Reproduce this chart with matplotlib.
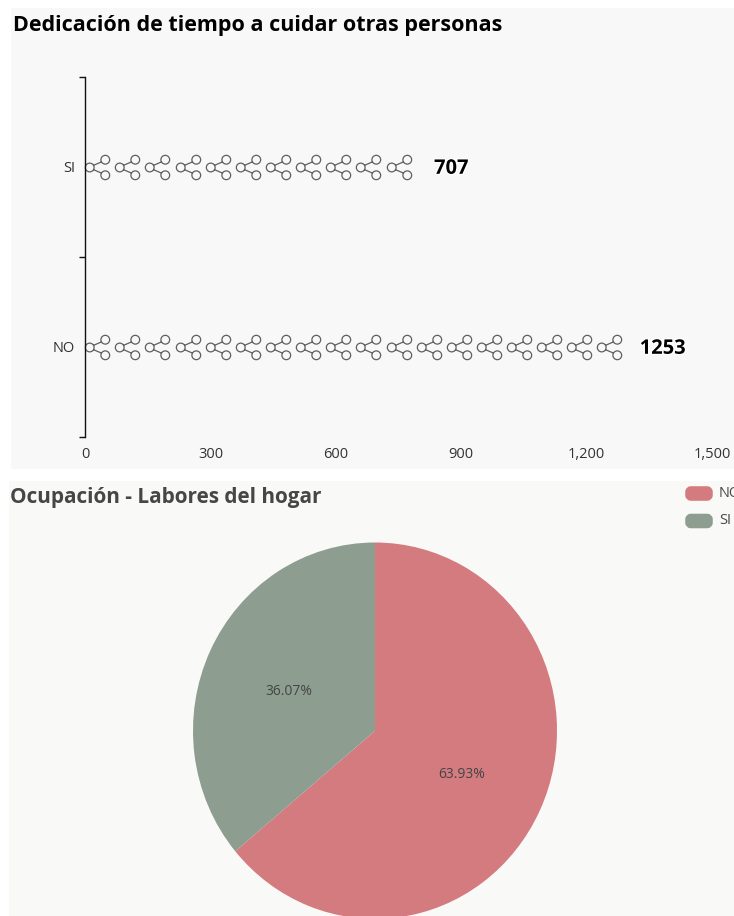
import matplotlib
matplotlib.use('Agg')
import matplotlib.pyplot as plt
from matplotlib.path import Path
from matplotlib.patches import FancyBboxPatch, Rectangle
import matplotlib.patheffects as pe

plt.rcParams['font.family'] = 'Open Sans'

# top chart
care_labels = ['NO', 'SI']
care_values = [1253, 707]
care_symbol_counts = [18, 11]
x_ticks = [0, 300, 600, 900, 1200, 1500]

# bottom chart
home_labels = ['NO', 'SI']
home_values = [63.93, 36.07]
home_colors = ['#d47b80', '#8d9e91']

W, H = 734, 916
symbol_step = 72.1  # data units between two icons
value_label_x = {'NO': 1327, 'SI': 835}


def px_rect(left, top, right, bottom):
    return [left / W, 1 - bottom / H, (right - left) / W, (bottom - top) / H]


def share_icon():
    # three circles and two connecting lines
    r = 0.18
    left = (-0.5 + r, 0)
    up = (0.5 - r, 0.32)
    down = (0.5 - r, -0.32)
    parts = []
    for c in (left, up, down):
        parts.append(Path.circle(c, r))
    parts.append(Path([(left[0] + r * 0.87, 0.09), (up[0] - r * 0.87, up[1] - 0.09)]))
    parts.append(Path([(left[0] + r * 0.87, -0.09), (down[0] - r * 0.87, down[1] + 0.09)]))
    return Path.make_compound_path(*parts)


fig = plt.figure(figsize=(W / 100, H / 100), dpi=100, facecolor='white')

# panel backgrounds
bg = fig.add_axes([0, 0, 1, 1])
bg.set_xlim(0, W)
bg.set_ylim(H, 0)
bg.axis('off')
bg.add_patch(Rectangle((11, 8), W - 11, 461, color='#f8f8f8', lw=0))
bg.add_patch(Rectangle((9, 481), W - 9, H - 481, color='#f9f9f7', lw=0))

bg.text(13, 25, 'Dedicación de tiempo a cuidar otras personas', fontsize=15.5,
        fontweight='bold', color='#000000', va='center', ha='left')
bg.text(10, 497.5, 'Ocupación - Labores del hogar', fontsize=14.95,
        fontweight='bold', color='#464646', va='center', ha='left')

# pictorial bars
ax = fig.add_axes(px_rect(85, 77, 712, 437))
ax.patch.set_alpha(0)
ax.set_xlim(0, x_ticks[-1])
ax.set_ylim(-0.5, 1.5)
icon = share_icon()
for i, label in enumerate(care_labels):
    xs = [symbol_step * (k + 0.5) - 7 for k in range(care_symbol_counts[i])]
    ax.plot(xs, [i] * len(xs), linestyle='none', marker=icon, markersize=17.5,
            markerfacecolor='none', markeredgecolor='#5f5f5f', markeredgewidth=0.9,
            clip_on=False)
    ax.text(value_label_x[label], i - 0.01, str(care_values[i]), fontsize=14.5, fontweight='bold',
            color='#000000', va='center', ha='left',
            path_effects=[pe.withStroke(linewidth=2, foreground='white')])

for s in ('top', 'right', 'bottom'):
    ax.spines[s].set_visible(False)
ax.spines['left'].set_color('#111111')
ax.spines['left'].set_linewidth(1.0)
ax.set_yticks([0, 1])
ax.set_yticklabels(care_labels, fontsize=10.5, color='#333333')
ax.set_yticks([-0.5, 0.5, 1.5], minor=True)
ax.tick_params(axis='y', which='major', length=0, pad=7)
ax.tick_params(axis='y', which='minor', length=4, width=1.0, color='#111111')
ax.set_xticks(x_ticks)
ax.set_xticklabels([f'{v:,}' for v in x_ticks], fontsize=10.5, color='#333333')
ax.tick_params(axis='x', length=0, pad=7)

# pie, a little taller than wide like the source
ax2 = fig.add_axes(px_rect(193, 542.5, 557, 918.9))
wedges, texts, pct_texts = ax2.pie(home_values, colors=home_colors, startangle=90,
                                   counterclock=False, radius=1,
                                   autopct='%.2f%%', pctdistance=0.525,
                                   textprops={'fontsize': 10, 'color': '#444444'})
for t in pct_texts:
    px, py = t.get_position()
    t.set_position((px, py - 0.012))
ax2.set_aspect('auto')
ax2.set_xlim(-1, 1)
ax2.set_ylim(-1, 1)

# legend
for i, label in enumerate(home_labels):
    top = 486 + i * 27.5
    bg.add_patch(FancyBboxPatch((688, top + 3), 22, 9, boxstyle='round,pad=0,rounding_size=3',
                                mutation_aspect=1, facecolor=home_colors[i], edgecolor=home_colors[i],
                                linewidth=4, joinstyle='round'))
    bg.text(719, top + 7.5, label, fontsize=10.5, color='#4a4a4a', va='center', ha='left')

fig.savefig('out.png', dpi=100)
